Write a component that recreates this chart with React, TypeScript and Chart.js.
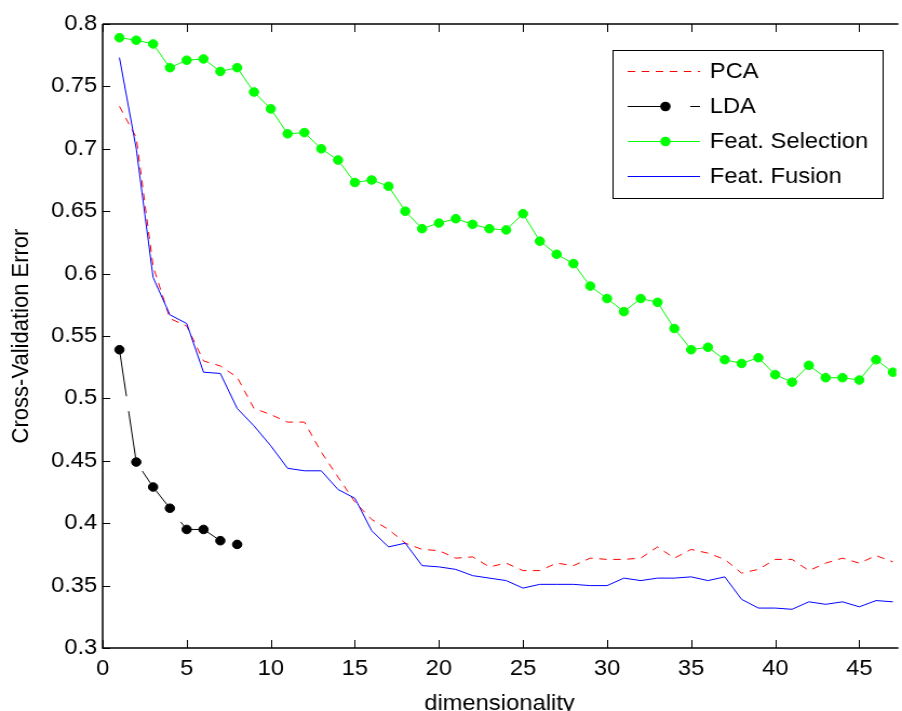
import React, { useEffect, useRef } from "react";
import { Chart, registerables } from "chart.js";

Chart.register(...registerables);

// ---------------- data ----------------
const dims = [
  1, 2, 3, 4, 5, 6, 7, 8, 9, 10, 11, 12, 13, 14, 15, 16, 17, 18, 19, 20, 21, 22, 23, 24,
  25, 26, 27, 28, 29, 30, 31, 32, 33, 34, 35, 36, 37, 38, 39, 40, 41, 42, 43, 44, 45, 46, 47,
];
const ldaDims = [1, 2, 3, 4, 5, 6, 7, 8];

const pca = [
  0.734, 0.709, 0.606, 0.564, 0.558, 0.53, 0.526, 0.517, 0.492, 0.487, 0.481, 0.481, 0.457,
  0.437, 0.417, 0.403, 0.395, 0.384, 0.379, 0.378, 0.372, 0.373, 0.365, 0.368, 0.362, 0.362,
  0.368, 0.366, 0.372, 0.371, 0.371, 0.372, 0.381, 0.372, 0.379, 0.376, 0.371, 0.36, 0.363,
  0.371, 0.371, 0.362, 0.368, 0.372, 0.368, 0.374, 0.369,
];
const lda = [0.539, 0.449, 0.429, 0.412, 0.395, 0.395, 0.386, 0.383];
const featSelection = [
  0.789, 0.787, 0.784, 0.765, 0.771, 0.772, 0.762, 0.765, 0.7455, 0.732, 0.712, 0.713, 0.7,
  0.691, 0.673, 0.675, 0.67, 0.65, 0.636, 0.6405, 0.644, 0.6395, 0.636, 0.635, 0.648, 0.626,
  0.6155, 0.608, 0.59, 0.58, 0.5695, 0.58, 0.577, 0.556, 0.539, 0.541, 0.531, 0.528, 0.5326,
  0.519, 0.513, 0.5265, 0.5166, 0.5166, 0.5147, 0.531, 0.521,
];
const featFusion = [
  0.773, 0.7, 0.597, 0.567, 0.56, 0.521, 0.52, 0.492, 0.478, 0.462, 0.444, 0.442, 0.442, 0.427,
  0.42, 0.394, 0.381, 0.384, 0.366, 0.365, 0.363, 0.358, 0.356, 0.354, 0.348, 0.351, 0.351,
  0.351, 0.35, 0.35, 0.356, 0.354, 0.356, 0.356, 0.357, 0.354, 0.357, 0.339, 0.332, 0.332,
  0.331, 0.337, 0.335, 0.337, 0.333, 0.338, 0.337,
];

const seriesNames = ["PCA", "LDA", "Feat. Selection", "Feat. Fusion"];
const seriesColors = ["#ff0000", "#000000", "#00ff00", "#0000ff"];

const xTickValues = [0, 5, 10, 15, 20, 25, 30, 35, 40, 45];
const xTickLabels = ["0", "5", "10", "15", "20", "25", "30", "35", "40", "45"];
const yTickValues = [0.3, 0.35, 0.4, 0.45, 0.5, 0.55, 0.6, 0.65, 0.7, 0.75, 0.8];
const yTickLabels = ["0.3", "0.35", "0.4", "0.45", "0.5", "0.55", "0.6", "0.65", "0.7", "0.75", "0.8"];
const xTitle = "dimensionality";
const yTitle = "Cross-Validation Error";

// ---------------- layout ----------------
const STRETCH = 1.08;
const OUT_W = 902;
const OUT_H = 711;
const W = Math.round(OUT_W / STRETCH);
const FONT = '"Liberation Sans", Arial, Helvetica, sans-serif';
const FS = 22;

const axesPlugin = {
  id: "matlabAxes",
  afterDatasetsDraw(chart: any) {
    const { ctx, chartArea: a, scales } = chart;
    const xs = scales.x;
    const ys = scales.y;
    ctx.save();
    ctx.setLineDash([]);
    ctx.strokeStyle = "#000";
    ctx.lineWidth = 1.5;
    ctx.beginPath();
    ctx.moveTo(a.left, a.top);
    ctx.lineTo(a.left, a.bottom);
    ctx.lineTo(a.right + 2, a.bottom);
    ctx.moveTo(a.left, a.top);
    ctx.lineTo(a.right + 2, a.top);
    ctx.stroke();
    ctx.lineWidth = 1;
    ctx.beginPath();
    xs.ticks.forEach((t: any) => {
      const px = Math.round(xs.getPixelForValue(t.value)) + 0.5;
      ctx.moveTo(px, a.bottom);
      ctx.lineTo(px, a.bottom - 8);
      ctx.moveTo(px, a.top);
      ctx.lineTo(px, a.top + 8);
    });
    ys.ticks.forEach((t: any) => {
      const py = Math.round(ys.getPixelForValue(t.value)) + 0.5;
      ctx.moveTo(a.left, py);
      ctx.lineTo(a.left + 7, py);
    });
    ctx.stroke();
    ctx.restore();
  },
};

const legendPlugin = {
  id: "matlabLegend",
  afterDraw(chart: any) {
    const { ctx } = chart;
    const left = 567;
    const top = 50;
    const right = 817;
    const bottom = 198;
    ctx.save();
    ctx.fillStyle = "#fff";
    ctx.fillRect(left, top, right - left, bottom - top);
    ctx.strokeStyle = "#000";
    ctx.lineWidth = 1;
    ctx.setLineDash([]);
    ctx.strokeRect(left + 0.5, top + 0.5, right - left, bottom - top);

    const x0 = 581;
    const x1 = 648;
    const xm = 616;
    const tx = 657;
    chart.data.datasets.forEach((ds: any, i: number) => {
      const y = Math.round(top + 20.7 + i * 35) + 0.5;
      ctx.strokeStyle = ds.borderColor;
      ctx.fillStyle = ds.borderColor;
      ctx.lineWidth = 1;
      if (i === 0) {
        ctx.setLineDash([7, 6]);
        ctx.beginPath();
        ctx.moveTo(x0, y);
        ctx.lineTo(x1, y);
        ctx.stroke();
      } else if (i === 1) {
        ctx.setLineDash([]);
        ctx.beginPath();
        ctx.moveTo(x0, y);
        ctx.lineTo(xm, y);
        ctx.moveTo(639, y);
        ctx.lineTo(x1, y);
        ctx.stroke();
      } else {
        ctx.setLineDash([]);
        ctx.beginPath();
        ctx.moveTo(x0, y);
        ctx.lineTo(x1, y);
        ctx.stroke();
      }
      if (ds.pointRadius > 0) {
        ctx.beginPath();
        ctx.arc(xm, y, ds.pointRadius + 0.5, 0, Math.PI * 2);
        ctx.fill();
      }
      ctx.fillStyle = "#000";
      ctx.font = `${FS}px ${FONT}`;
      ctx.textBaseline = "middle";
      ctx.textAlign = "left";
      ctx.fillText(seriesNames[i], tx, y);
    });
    ctx.restore();
  },
};

export default function App() {
  const canvasRef = useRef<HTMLCanvasElement | null>(null);

  useEffect(() => {
    const canvas = canvasRef.current;
    if (!canvas) return;
    const chart = new Chart(canvas, {
      type: "line",
      data: {
        datasets: [
          {
            label: seriesNames[0],
            data: dims.map((d, i) => ({ x: d, y: pca[i] })),
            borderColor: seriesColors[0],
            backgroundColor: seriesColors[0],
            borderWidth: 1,
            borderDash: [7, 6],
            pointRadius: 0,
            fill: false,
            tension: 0,
            order: 3,
          },
          {
            label: seriesNames[1],
            data: ldaDims.map((d, i) => ({ x: d, y: lda[i] })),
            borderColor: seriesColors[1],
            backgroundColor: seriesColors[1],
            borderWidth: 1,
            borderDash: [47, 15],
            pointRadius: 4.3,
            pointBorderWidth: 1,
            pointBackgroundColor: seriesColors[1],
            pointBorderColor: seriesColors[1],
            fill: false,
            tension: 0,
            order: 2,
          },
          {
            label: seriesNames[2],
            data: dims.map((d, i) => ({ x: d, y: featSelection[i] })),
            borderColor: seriesColors[2],
            backgroundColor: seriesColors[2],
            borderWidth: 1,
            pointRadius: 4.3,
            pointBorderWidth: 1,
            pointBackgroundColor: seriesColors[2],
            pointBorderColor: seriesColors[2],
            fill: false,
            tension: 0,
            order: 1,
          },
          {
            label: seriesNames[3],
            data: dims.map((d, i) => ({ x: d, y: featFusion[i] })),
            borderColor: seriesColors[3],
            backgroundColor: seriesColors[3],
            borderWidth: 1,
            pointRadius: 0,
            fill: false,
            tension: 0,
            order: 0,
          },
        ],
      },
      options: {
        responsive: false,
        animation: false,
        devicePixelRatio: 1,
        layout: { padding: { top: 24, right: 0, bottom: 0, left: 0 } },
        plugins: {
          legend: { display: false },
          tooltip: { enabled: false },
        },
        scales: {
          x: {
            type: "linear",
            min: 0,
            max: 47.2,
            afterBuildTicks: (s: any) => {
              s.ticks = xTickValues.map((v) => ({ value: v }));
            },
            afterFit: (s: any) => {
              s.height = OUT_H - 648;
            },
            grid: { display: false, drawTicks: false },
            border: { display: false },
            ticks: {
              color: "#000",
              font: { family: FONT, size: FS },
              padding: 8,
              maxRotation: 0,
              autoSkip: false,
              callback: (_v: any, i: number) => xTickLabels[i],
            },
            title: {
              display: true,
              text: xTitle,
              color: "#000",
              font: { family: FONT, size: FS, lineHeight: 1 },
              padding: { top: 0, bottom: -4 },
            },
          },
          y: {
            type: "linear",
            min: 0.3,
            max: 0.8,
            afterBuildTicks: (s: any) => {
              s.ticks = yTickValues.map((v) => ({ value: v }));
            },
            afterFit: (s: any) => {
              s.width = 95;
            },
            grid: { display: false, drawTicks: false },
            border: { display: false },
            ticks: {
              color: "#000",
              font: { family: FONT, size: FS },
              padding: 5,
              autoSkip: false,
              callback: (_v: any, i: number) => yTickLabels[i],
            },
            title: {
              display: true,
              text: yTitle,
              color: "#000",
              font: { family: FONT, size: FS, lineHeight: 1 },
              padding: { top: 8.5, bottom: 0 },
            },
          },
        },
      } as any,
      plugins: [axesPlugin, legendPlugin],
    });
    return () => chart.destroy();
  }, []);

  return (
    <div style={{ position: "absolute", left: 0, top: 0, width: OUT_W, height: OUT_H, background: "#fff" }}>
      <canvas
        ref={canvasRef}
        width={W}
        height={OUT_H}
        style={{ display: "block", width: `${OUT_W}px`, height: `${OUT_H}px` }}
      />
    </div>
  );
}
